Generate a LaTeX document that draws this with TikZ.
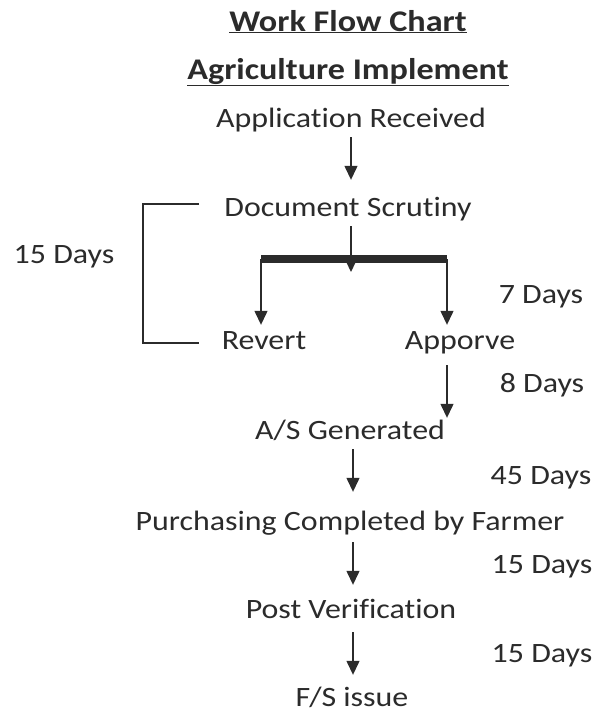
\documentclass[tikz,border=0pt]{standalone}
\usepackage{fontspec}
\setmainfont{Carlito}[FakeStretch=1.14,Ligatures={NoCommon}]
\usetikzlibrary{arrows.meta}

\begin{document}
\begin{tikzpicture}[x=1pt,y=-1pt,
  txt/.style={font=\fontsize{28}{34}\selectfont,text=ink,inner sep=0pt,anchor=base},
  head/.style={txt,font=\fontsize{30}{36}\selectfont\bfseries},
  stepbox/.style={txt,text height=18pt,text depth=10pt},
  arr/.style={-{Triangle[width=13pt,length=14pt]},line width=1.3pt,draw=ink},
  bar/.style={line width=8pt,draw=ink},
  brk/.style={line width=1.3pt,draw=ink}]
%
\useasboundingbox (0,0) rectangle (597,713);
%
\definecolor{ink}{rgb}{0.17,0.17,0.17}
%
\node[head] (title1) at (348,31) {\underline{Work Flow Chart}};
\node[head] (title2) at (348,79) {\underline{Agriculture Implement}};
%
\node[stepbox] (app)   at (351,127) {Application Received};
\node[stepbox] (scrut) at (348,216) {Document Scrutiny};
\node[stepbox] (rev)   at (264,349) {Revert};
\node[stepbox] (appr)  at (460,349) {Apporve};
\node[stepbox] (as)    at (350,439) {A/S Generated};
\node[stepbox] (purch) at (350,530) {Purchasing Completed by Farmer};
\node[stepbox] (post)  at (351,618) {Post Verification};
\node[stepbox] (fs)    at (352,706) {F/S issue};
%
\node[txt] (d15a) at (64,263)  {15 Days};
\node[txt] (d7)   at (541,303) {7 Days};
\node[txt] (d8)   at (542,392) {8 Days};
\node[txt] (d45)  at (541,484) {45 Days};
\node[txt] (d15b) at (542,573) {15 Days};
\node[txt] (d15c) at (542,662) {15 Days};
%
\coordinate (barL) at (261,259);
\coordinate (barR) at (447,259);
\coordinate (barM) at (351,272);
\coordinate (brTop) at (199,204);
\coordinate (brL) at (143,204);
\coordinate (brBot) at (199,343);
%
\draw[arr,shorten >=18pt] (app.south) -- (app.south |- scrut.north);
\draw[arr] (scrut.south -| barM) -- (barM);
\draw[arr,shorten >=6pt] (barL) -- (barL |- rev.north);
\draw[arr,shorten >=6pt] (barR) -- (barR |- appr.north);
\draw[bar] (barL) -- (barR);
\draw[brk] (brTop) -- (brL) |- (brBot);
%
\draw[arr,shorten <=6pt,shorten >=3pt] (appr.south -| barR) -- (barR |- as.north);
\draw[arr,shorten >=20pt] (as.south -| 353,0) -- (353,0 |- purch.north);
\draw[arr,shorten <=2pt,shorten >=15pt] (purch.south -| 353,0) -- (353,0 |- post.north);
\draw[arr,shorten <=4pt,shorten >=13pt] (post.south -| 353,0) -- (353,0 |- fs.north);
%
\end{tikzpicture}
\end{document}
